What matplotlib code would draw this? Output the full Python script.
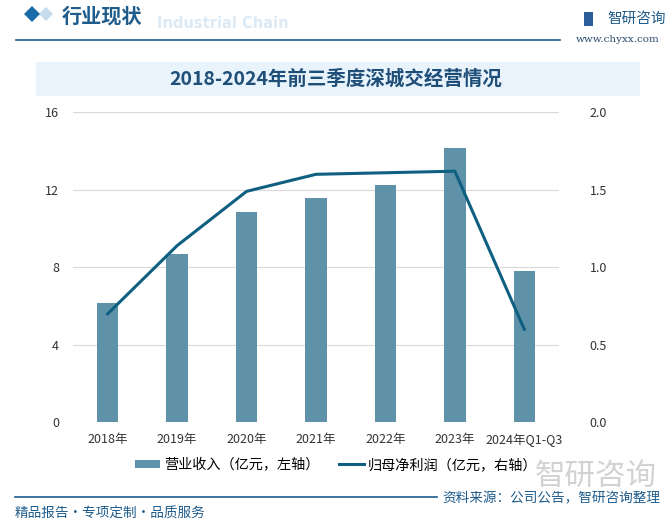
import matplotlib
matplotlib.use("Agg")
import matplotlib.pyplot as plt
from matplotlib.patches import Polygon, Rectangle
from matplotlib.lines import Line2D
import numpy as np

plt.rcParams['font.family'] = ['Noto Sans CJK SC', 'DejaVu Sans']

categories = ["2018年", "2019年", "2020年", "2021年", "2022年", "2023年", "2024年Q1-Q3"]
revenue = [6.17, 8.69, 10.85, 11.58, 12.25, 14.16, 7.81]
net_profit = [0.70, 1.14, 1.49, 1.60, 1.61, 1.62, 0.60]
left_ticks = [0, 4, 8, 12, 16]
right_ticks = [0.0, 0.5, 1.0, 1.5, 2.0]

title = "2018-2024年前三季度深城交经营情况"
label_bar = "营业收入（亿元，左轴）"
label_line = "归母净利润（亿元，右轴）"

BAR_C = "#5F91A8"
LINE_C = "#0E5F80"
DARK = "#1F5C8B"

W, H = 672, 525
fig = plt.figure(figsize=(W / 100, H / 100), dpi=100)

def fx(px):
    return px / W

def fy(py):
    return 1 - py / H

# Header
fig.text(fx(157), fy(23), "Industrial Chain", fontsize=10.5, fontweight='bold',
         color="#DCEAF5", va='center', ha='left', family='DejaVu Sans', zorder=0)
fig.patches.append(Polygon([[fx(46), fy(7)], [fx(53), fy(14)], [fx(46), fy(21)], [fx(39), fy(14)]],
                           closed=True, transform=fig.transFigure, facecolor="#C5DDEE", edgecolor='none'))
fig.patches.append(Polygon([[fx(32), fy(6)], [fx(40), fy(14)], [fx(32), fy(22)], [fx(24), fy(14)]],
                           closed=True, transform=fig.transFigure, facecolor="#1A6CA8", edgecolor='none'))
fig.text(fx(62), fy(16), "行业现状", fontsize=14.5, color=DARK, va='center', ha='left', fontweight='bold')
fig.lines.append(Line2D([fx(16), fx(560)], [fy(39.5), fy(39.5)], transform=fig.transFigure,
                        color=DARK, lw=1.2))

# Logo
fig.patches.append(Rectangle((fx(584), fy(26)), fx(9), 14 / H, transform=fig.transFigure,
                             facecolor="#2B5D9A", edgecolor='none'))
fig.text(fx(607), fy(19), "智研咨询", fontsize=10.5, color=DARK, va='center', ha='left')
fig.text(fx(660), fy(39), "www.chyxx.com", fontsize=7.5, color="#2F4F6F", va='center', ha='right',
         family='DejaVu Serif')

# Title band
fig.patches.append(Rectangle((fx(36), fy(96)), fx(604), 34 / H, transform=fig.transFigure,
                             facecolor="#E8F3FB", edgecolor='none'))
fig.text(0.5, fy(79), title, fontsize=14, fontweight='bold', color="#1F4E79", va='center', ha='center')

# Axes
ax = fig.add_axes([fx(73), fy(422.3), fx(486), 310 / H])
x = np.arange(len(categories))
ax.bar(x, revenue, width=0.31, color=BAR_C, zorder=2, label=label_bar)
ax.set_ylim(0, 16)
ax.set_yticks(left_ticks)
ax.set_yticklabels([str(t) for t in left_ticks])
ax.set_xlim(-0.5, len(categories) - 0.5)
ax.set_xticks(x)
ax.set_xticklabels(categories)
ax.grid(axis='y', color="#D9D9D9", lw=0.8, zorder=0)
for s in ax.spines.values():
    s.set_visible(False)
ax.tick_params(axis='both', length=0, labelsize=9, colors="#333333", pad=8)
ax.tick_params(axis='y', pad=10)

ax2 = ax.twinx()
ax2.plot(x, net_profit, color=LINE_C, lw=2.2, zorder=3, label=label_line)
ax2.set_ylim(0, 2)
ax2.set_yticks(right_ticks)
ax2.set_yticklabels([f"{t:.1f}" for t in right_ticks])
for s in ax2.spines.values():
    s.set_visible(False)
ax2.tick_params(axis='y', length=0, labelsize=9, colors="#333333", pad=22)

# Legend
handles = [Rectangle((0, 0), 1, 1, facecolor=BAR_C, edgecolor='none'),
           Line2D([0], [0], color=LINE_C, lw=2.2)]
fig.legend(handles, [label_bar, label_line], loc='center', bbox_to_anchor=(fx(336), fy(465)),
           ncol=2, frameon=False, fontsize=10.2, handlelength=1.8, handleheight=0.5,
           columnspacing=1.4, handletextpad=0.25)

# Watermark logo text
fig.text(fx(535), fy(476), "智研咨询", fontsize=22, color="#C4C4C4", alpha=0.75, va='center', ha='left')

# Footer
fig.lines.append(Line2D([fx(15), fx(437)], [fy(497), fy(497)], transform=fig.transFigure,
                        color=DARK, lw=1.2))
fig.text(fx(660), fy(498), "资料来源：公司公告，智研咨询整理", fontsize=9.8, color=DARK,
         va='center', ha='right')
fig.text(fx(15), fy(514), "精品报告・专项定制・品质服务", fontsize=9.8, color=DARK,
         va='center', ha='left', family=['Noto Sans CJK SC', 'DejaVu Sans'])

fig.savefig("out.png", dpi=100)
